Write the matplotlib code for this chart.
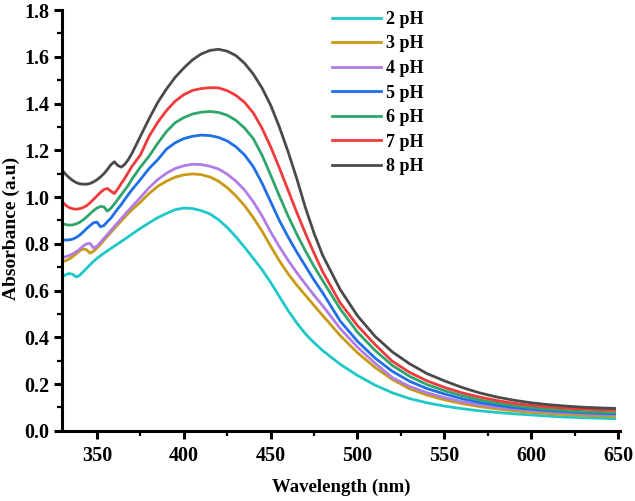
import matplotlib
matplotlib.use('Agg')
import matplotlib.pyplot as plt
from matplotlib.ticker import MultipleLocator, FormatStrFormatter

plt.rcParams['font.family'] = ['Liberation Serif', 'DejaVu Serif']
plt.rcParams['font.weight'] = 'bold'

wavelength = [330, 332, 334, 336, 338, 340, 342, 344, 346, 348, 350, 352, 354, 356, 358, 360, 362, 364, 366, 368, 370,
              375, 380, 385, 390, 395, 400, 405, 410, 415, 420, 425, 430, 435, 440, 445, 450, 455, 460, 465, 470, 475, 480,
              490, 500, 510, 520, 530, 540, 550, 560, 570, 580, 590, 600, 610, 620, 630, 640,
              648]

ph2 = [0.658, 0.668, 0.673, 0.670, 0.658, 0.665, 0.680, 0.695, 0.710, 0.725, 0.738, 0.749, 0.760, 0.770, 0.780, 0.790, 0.800, 0.810, 0.820, 0.830, 0.841,
       0.866, 0.890, 0.912, 0.930, 0.946, 0.953, 0.951, 0.942, 0.928, 0.903, 0.870, 0.830, 0.785, 0.738, 0.690, 0.635, 0.575, 0.515, 0.462, 0.415, 0.377, 0.343,
       0.285, 0.237, 0.196, 0.163, 0.138, 0.120, 0.106, 0.095, 0.086, 0.079, 0.073, 0.068, 0.063, 0.059, 0.056, 0.054,
       0.052]
ph3 = [0.723, 0.728, 0.735, 0.745, 0.757, 0.770, 0.778, 0.775, 0.760, 0.768, 0.782, 0.798, 0.815, 0.832, 0.849, 0.865, 0.882, 0.898, 0.914, 0.930, 0.945,
       0.978, 1.015, 1.046, 1.068, 1.085, 1.095, 1.099, 1.096, 1.086, 1.068, 1.040, 1.005, 0.963, 0.912, 0.855, 0.790, 0.728, 0.672, 0.624, 0.580, 0.536, 0.493,
       0.408, 0.334, 0.272, 0.220, 0.180, 0.153, 0.133, 0.117, 0.104, 0.094, 0.086, 0.079, 0.074, 0.070, 0.066, 0.064,
       0.062]
ph4 = [0.741, 0.745, 0.750, 0.757, 0.766, 0.777, 0.790, 0.800, 0.802, 0.782, 0.790, 0.806, 0.823, 0.840, 0.857, 0.874, 0.891, 0.908, 0.925, 0.942, 0.958,
       0.998, 1.040, 1.075, 1.102, 1.122, 1.134, 1.140, 1.139, 1.132, 1.120, 1.098, 1.068, 1.030, 0.980, 0.920, 0.851, 0.788, 0.730, 0.677, 0.628, 0.580, 0.535,
       0.438, 0.358, 0.290, 0.228, 0.190, 0.163, 0.142, 0.125, 0.112, 0.102, 0.094, 0.087, 0.082, 0.077, 0.073, 0.071,
       0.069]
ph5 = [0.818, 0.816, 0.817, 0.820, 0.827, 0.837, 0.850, 0.865, 0.878, 0.890, 0.893, 0.873, 0.878, 0.895, 0.910, 0.930, 0.950, 0.968, 0.990, 1.010, 1.030,
       1.075, 1.122, 1.160, 1.205, 1.232, 1.250, 1.260, 1.265, 1.263, 1.255, 1.240, 1.215, 1.180, 1.130, 1.060, 0.980, 0.900, 0.830, 0.765, 0.705, 0.645, 0.590,
       0.470, 0.383, 0.312, 0.255, 0.212, 0.181, 0.158, 0.138, 0.122, 0.110, 0.100, 0.093, 0.087, 0.082, 0.078, 0.075,
       0.073]
ph6 = [0.887, 0.882, 0.880, 0.881, 0.885, 0.892, 0.902, 0.915, 0.928, 0.942, 0.953, 0.960, 0.958, 0.940, 0.952, 0.970, 0.990, 1.010, 1.030, 1.050, 1.075,
       1.128, 1.175, 1.230, 1.280, 1.318, 1.340, 1.355, 1.363, 1.366, 1.362, 1.350, 1.328, 1.295, 1.250, 1.180, 1.094, 1.005, 0.920, 0.842, 0.770, 0.703, 0.642,
       0.522, 0.422, 0.345, 0.280, 0.233, 0.198, 0.172, 0.151, 0.133, 0.119, 0.108, 0.099, 0.092, 0.087, 0.082, 0.079,
       0.077]
ph7 = [0.980, 0.965, 0.955, 0.950, 0.948, 0.950, 0.955, 0.963, 0.975, 0.990, 1.005, 1.020, 1.032, 1.037, 1.025, 1.015, 1.035, 1.058, 1.080, 1.105, 1.130,
       1.180, 1.260, 1.320, 1.370, 1.410, 1.438, 1.456, 1.464, 1.468, 1.467, 1.455, 1.435, 1.405, 1.360, 1.295, 1.215, 1.125, 1.030, 0.935, 0.845, 0.760, 0.680,
       0.548, 0.450, 0.370, 0.298, 0.250, 0.214, 0.186, 0.163, 0.145, 0.130, 0.118, 0.109, 0.102, 0.097, 0.093, 0.090,
       0.088]
ph8 = [1.115, 1.097, 1.083, 1.071, 1.062, 1.057, 1.055, 1.055, 1.058, 1.065, 1.074, 1.086, 1.100, 1.118, 1.138, 1.151, 1.135, 1.128, 1.140, 1.160, 1.185,
       1.260, 1.335, 1.405, 1.462, 1.512, 1.552, 1.587, 1.612, 1.627, 1.632, 1.624, 1.605, 1.572, 1.526, 1.467, 1.393, 1.300, 1.195, 1.080, 0.955, 0.845, 0.750,
       0.605, 0.492, 0.405, 0.338, 0.287, 0.245, 0.214, 0.186, 0.163, 0.145, 0.131, 0.120, 0.112, 0.106, 0.101, 0.098,
       0.096]

labels = ['2 pH', '3 pH', '4 pH', '5 pH', '6 pH', '7 pH', '8 pH']
colors = ['#1fc8c8', '#c99a13', '#b07ce6', '#1f6fe6', '#2ea56a', '#ef3b3b', '#4a4a4a']
series = [ph2, ph3, ph4, ph5, ph6, ph7, ph8]

fig = plt.figure(figsize=(6.35, 5.01), dpi=100)
ax = fig.add_axes([0.098, 0.14, 0.878, 0.84])

for vals, lab, col in zip(series, labels, colors):
    ax.plot(wavelength, vals, color=col, lw=2, label=lab)

ax.set_xlim(330, 651)
ax.set_ylim(0, 1.8)
ax.xaxis.set_major_locator(MultipleLocator(50))
ax.xaxis.set_minor_locator(MultipleLocator(25))
ax.yaxis.set_major_locator(MultipleLocator(0.2))
ax.yaxis.set_minor_locator(MultipleLocator(0.1))
ax.yaxis.set_major_formatter(FormatStrFormatter('%.1f'))

for side in ['top', 'right']:
    ax.spines[side].set_visible(False)
for side in ['left', 'bottom']:
    ax.spines[side].set_linewidth(2.2)

ax.tick_params(which='major', direction='out', length=6, width=2.2, labelsize=14.5)
ax.tick_params(axis='x', which='major', pad=5)
ax.tick_params(which='minor', direction='out', length=3.5, width=1.6)

ax.set_xlabel('Wavelength (nm)', fontsize=13.5, fontweight='bold', labelpad=9)
ax.set_ylabel('Absorbance (a.u)', fontsize=14, fontweight='bold')
ax.yaxis.set_label_coords(-0.075, 0.48)

ax.legend(frameon=False, loc='upper left', bbox_to_anchor=(0.484, 0.998),
          handlelength=2.7, handletextpad=0.3, labelspacing=0.42,
          borderaxespad=0, borderpad=0, fontsize=13)

plt.savefig('out.png', dpi=100)
plt.close()
